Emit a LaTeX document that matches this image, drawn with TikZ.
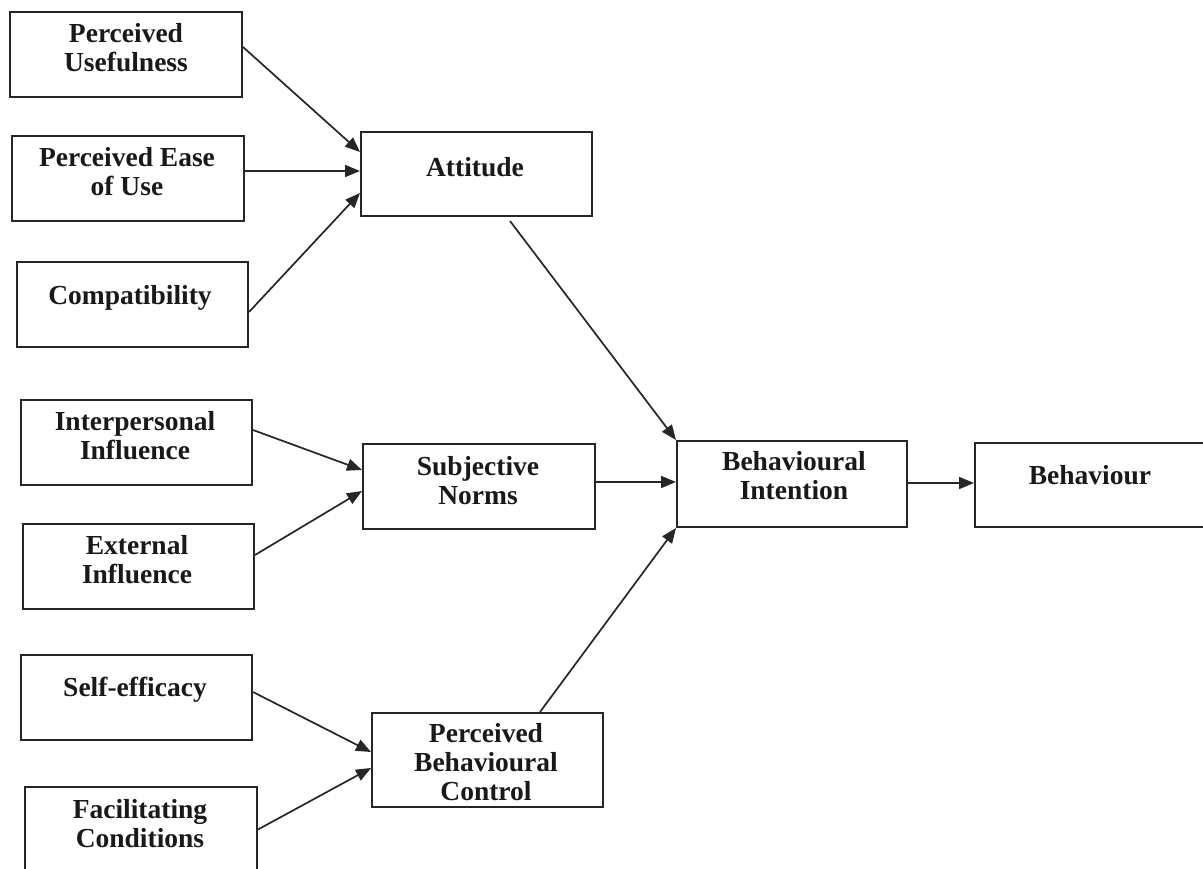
\documentclass[tikz,border=0pt]{standalone}
\usepackage{fontspec}
\setmainfont{Liberation Serif}
\usetikzlibrary{arrows.meta}
\begin{document}
\begin{tikzpicture}[x=1pt,y=-1pt,
  box/.style={draw=black!85, line width=2pt, rectangle, inner sep=0pt,
    minimum width=231pt, minimum height=85pt},
  lbl/.style={font=\fontsize{27.5}{29}\selectfont\bfseries, align=center, inner sep=0pt, text=black!90},
  arr/.style={draw=black!85, line width=1.7pt, -{Triangle[length=15pt,width=12pt]}}]
\useasboundingbox (0,0) rectangle (1203,869);
\clip (0,0) rectangle (1203,869);
\fill[white] (0,0) rectangle (1203,869);
% boxes
\node[box, minimum width=232pt] (pu)  at (126,54.5) {};
\node[box, minimum width=232pt] (peu) at (128,178.5) {};
\node[box] (cmp) at (132.5,304.5) {};
\node[box, minimum height=84pt] (att) at (476.5,174) {};
\node[box] (ipi) at (136.5,442.5) {};
\node[box] (exi) at (138.5,566.5) {};
\node[box, minimum width=232pt] (sn) at (479,486.5) {};
\node[box, minimum width=230pt, minimum height=86pt] (bi) at (792,484) {};
\node[box, minimum width=230pt, minimum height=84pt] (beh) at (1090,485) {};
\node[box] (se) at (136.5,697.5) {};
\node[box, minimum height=94pt] (pbc) at (487.5,760) {};
\node[box, minimum width=232pt] (fc) at (141,829.5) {};
% labels
\node[lbl] (pu-t)  at (126,47.5) {Perceived\\Usefulness};
\node[lbl] (peu-t) at (127,172) {Perceived Ease\\of Use};
\node[lbl] (cmp-t) at (130,298) {Compatibility};
\node[lbl] (att-t) at (475,167) {Attitude};
\node[lbl] (ipi-t) at (135,435.5) {Interpersonal\\Influence};
\node[lbl] (exi-t) at (137,559.5) {External\\Influence};
\node[lbl] (sn-t)  at (478,480.5) {Subjective\\Norms};
\node[lbl] (bi-t)  at (794,476) {Behavioural\\Intention};
\node[lbl] (beh-t) at (1090,475) {Behaviour};
\node[lbl] (se-t)  at (135,690) {Self-efficacy};
\node[lbl] (pbc-t) at (486,762.5) {Perceived\\Behavioural\\Control};
\node[lbl] (fc-t)  at (140,824) {Facilitating\\Conditions};
% connectors
\draw[arr] ([yshift=7.5pt]pu.east) -- ([yshift=22pt]att.west);
\draw[arr] ([yshift=7.5pt]peu.east) -- ([yshift=3pt]att.west);
\draw[arr] ([yshift=-7.5pt]cmp.east) -- ([yshift=-19pt]att.west);
\draw[arr] ([yshift=12.5pt]ipi.east) -- ([yshift=16.5pt]sn.west);
\draw[arr] ([yshift=11.5pt]exi.east) -- ([yshift=-4.5pt]sn.west);
\draw[arr] ([yshift=5.5pt]se.east) -- ([yshift=8pt]pbc.west);
\draw[arr] (fc.east) -- ([yshift=-8pt]pbc.west);
\draw[arr] ([xshift=33.5pt,yshift=-4pt]att.south) -- (bi.north west);
\draw[arr] ([yshift=4.5pt]sn.east) -- ([yshift=2pt]bi.west);
\draw[arr] ([xshift=52.5pt]pbc.north) -- (bi.south west);
\draw[arr] ([yshift=1pt]bi.east) -- ([yshift=2pt]beh.west);
\end{tikzpicture}
\end{document}
